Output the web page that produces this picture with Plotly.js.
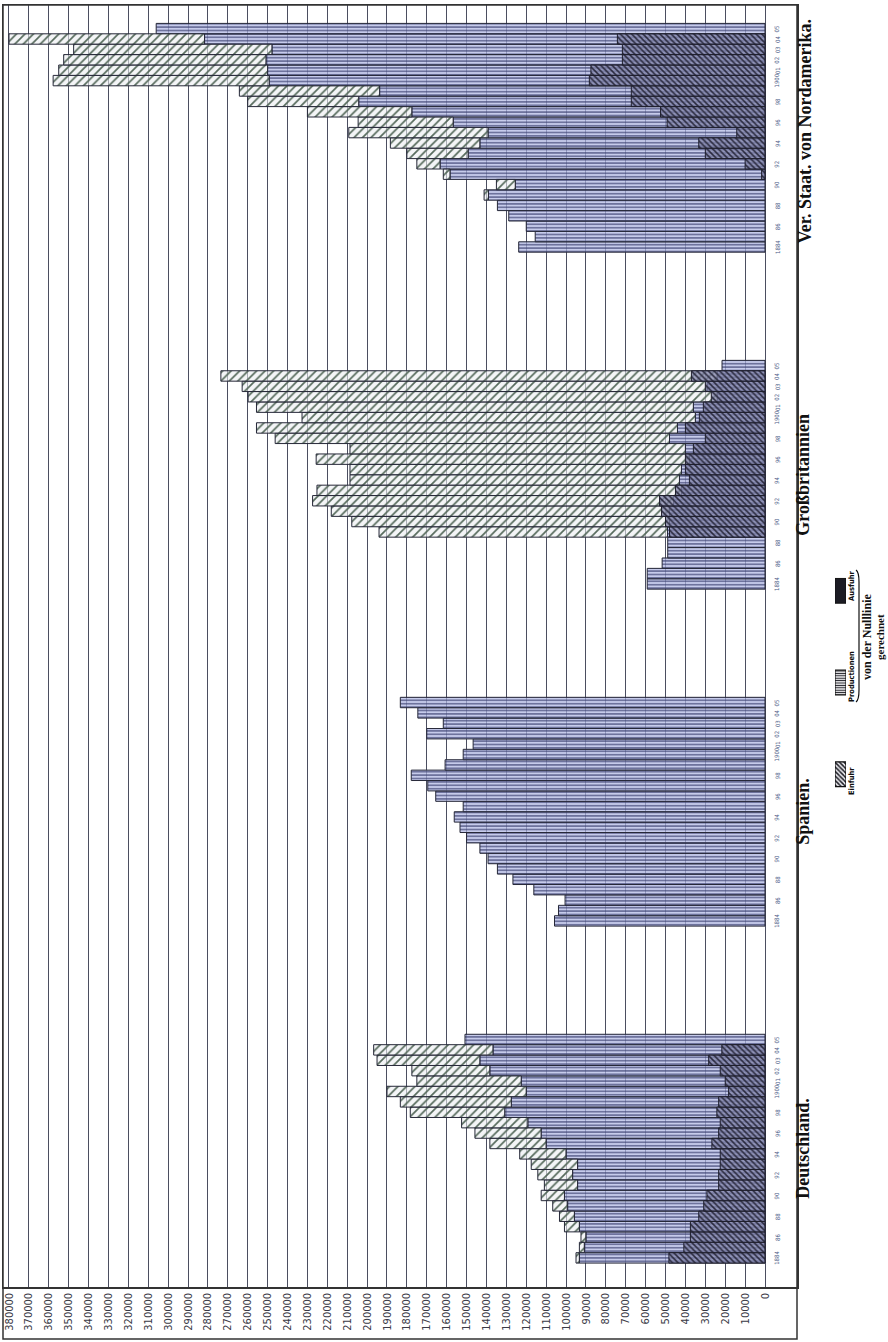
<!DOCTYPE html>
<html><head><meta charset="utf-8">
<script src="https://cdn.plot.ly/plotly-3.0.1.min.js"></script>
<style>html,body{margin:0;padding:0;background:#fff;}#chart{width:888px;height:1342px;}</style>
</head><body><div id="chart"></div>
<script>
// ---------- data ----------
const years = [1884,1885,1886,1887,1888,1889,1890,1891,1892,1893,1894,1895,1896,1897,1898,1899,1900,1901,1902,1903,1904,1905];
const yearLabels = ["1884","","86","","88","","90","","92","","94","","96","","98","","1900","01","02","03","04","05"];
const countryNames = ["Deutschland.","Spanien.","Großbritannien","Ver. Staat. von Nordamerika."];

const productionDE = [93300,90800,90000,93300,95800,99200,100800,94200,96700,94200,100000,110000,112500,119200,130800,127500,120000,122500,138300,143300,136700,150800];
const importsDE    = [1700,2500,2500,7500,7500,7500,11700,16700,17500,23300,23300,28300,33300,33300,47500,55800,70000,52500,39200,51700,60000,0];
const exportsDE    = [48300,40800,37500,37500,33300,30800,29200,23300,23300,22500,22500,26700,23300,22500,24200,23300,18300,20000,22500,28300,21700,0];

const productionES = [105800,103800,100500,116200,126700,134500,139200,143300,150000,153300,156200,151700,165500,169500,177800,160800,151700,146700,170000,161700,174500,183300];
const importsES    = [0,0,0,0,0,0,0,0,0,0,0,0,0,0,0,0,0,0,0,0,0,0];
const exportsES    = [0,0,0,0,0,0,0,0,0,0,0,0,0,0,0,0,0,0,0,0,0,0];

const productionGB = [59200,59200,51700,48900,48900,49000,48000,48000,46000,42000,43000,42000,38000,40000,48000,44000,35000,36000,24000,29000,24000,21600];
const importsGB    = [0,0,0,0,0,145000,159700,170000,181400,183200,165600,166600,187600,168600,198200,211600,197700,219600,235800,233800,249500,0];
const exportsGB    = [0,0,0,0,0,48000,50000,52000,53000,45000,38000,40000,40000,36000,30000,40000,33000,31000,27000,30000,37000,0];

const productionUS = [123800,115500,120000,128800,134500,139000,125500,158300,163300,149200,143300,139200,156700,177500,204200,193700,249200,250000,250800,247800,281700,306000];
const importsUS    = [0,0,0,0,0,2200,9500,3400,11700,30800,45000,70000,47800,52500,55800,70500,108600,105000,101700,99700,98300,0];
const exportsUS    = [0,0,0,0,0,0,0,1700,10000,30000,33300,14200,49200,52500,67200,67200,88300,87500,71700,71700,74200,0];

const valueTickLabels = ["0","10000","20000","30000","40000","50000","60000","70000","80000","90000","100000","110000","120000","130000","140000","150000","160000","170000","180000","190000","200000","210000","220000","230000","240000","250000","260000","270000","280000","290000","300000","310000","320000","330000","340000","350000","360000","370000","380000"];

const legendLabels = ["Einfuhr","Productionen","Ausfuhr"];

// ---------- layout helpers (positions, not data) ----------
const groupBase = [2.8, 35.2, 67.6, 100.0];
const W = 888, H = 1342, ML = 3, MR = 0, MT = 5, MB = 55;
const PW = W - ML - MR, PH = H - MT - MB;
const plotRightPx = 797;
const px2paperX = px => (px - ML) / PW;
const py2paperY = py => (H - MB - py) / PH;

const series = [
  {p: productionDE, i: importsDE, e: exportsDE},
  {p: productionES, i: importsES, e: exportsES},
  {p: productionGB, i: importsGB, e: exportsGB},
  {p: productionUS, i: importsUS, e: exportsUS}
];

const styleProd = {color:'rgba(176,184,228,0.78)', line:{color:'#262838', width:1},
  pattern:{shape:'-', fgcolor:'#3b4070', bgcolor:'rgba(176,184,228,0.72)', size:3.4, solidity:0.32}};
const styleImp = {color:'rgba(236,238,240,0.7)', line:{color:'#262838', width:1},
  pattern:{shape:'/', fgcolor:'#566a5c', bgcolor:'rgba(236,238,242,0.6)', size:6, solidity:0.28}};
const styleExp = {color:'rgba(120,122,160,0.8)', line:{color:'#1e1e2c', width:1},
  pattern:{shape:'\\', fgcolor:'#2a2a3e', bgcolor:'rgba(128,130,168,0.75)', size:4, solidity:0.38}};

const nz = a => a.map(v => v === 0 ? null : v);
const traces = [];
const layers = [
  {key:'p', style: styleProd, base: () => null},
  {key:'i', style: styleImp, base: s => s.p},
  {key:'e', style: styleExp, base: () => null}
];
layers.forEach(L => {
  series.forEach((s, c) => {
    const ys = years.map((_, k) => groupBase[c] + k);
    const t = {type:'bar', orientation:'h', x: nz(s[L.key]), y: ys, width: 1,
      marker: L.style, hoverinfo:'skip', showlegend:false, xaxis:'x', yaxis:'y'};
    const b = L.base(s);
    if (b) t.base = b;
    traces.push(t);
  });
});

// legend swatches (small subplot)
const legendMarkers = [
  {color:'#e8e8ec', line:{color:'#111', width:1.2}, pattern:{shape:'\\', fgcolor:'#1a1a22', bgcolor:'#e8e8ec', size:3.2, solidity:0.45}},
  {color:'#ffffff', line:{color:'#111', width:1.2}, pattern:{shape:'-', fgcolor:'#1a1a22', bgcolor:'#ffffff', size:2.4, solidity:0.45}},
  {color:'#1c1c24', line:{color:'#111', width:1}}
];
legendLabels.forEach((lab, k) => {
  traces.push({type:'bar', orientation:'h', x:[1], y:[k], width:0.27, marker: legendMarkers[k],
    hoverinfo:'skip', showlegend:false, xaxis:'x2', yaxis:'y2'});
});

// ---------- annotations ----------
const annotations = [];
series.forEach((s, c) => {
  yearLabels.forEach((lab, k) => {
    if (!lab) return;
    annotations.push({xref:'x', yref:'y', x:-6000, y: groupBase[c] + k, text: lab,
      textangle:-90, showarrow:false, font:{family:'DejaVu Sans Condensed, DejaVu Sans', size:6, color:'#4a5a86'}});
  });
});
const countryX = [815, 815, 815, 817];
const countryYShift = [0, 0, 0, 0.6];
countryNames.forEach((n, c) => {
  annotations.push({xref:'paper', yref:'y', x: px2paperX(countryX[c]), y: groupBase[c] + 10.5 + countryYShift[c],
    text:'<b>' + n + '</b>', textangle:-90, showarrow:false,
    font:{family:'Liberation Serif, DejaVu Serif, serif', size:18, color:'#111'}});
});
const legendTextY = [781, 677, 586];
legendLabels.forEach((lab, k) => {
  annotations.push({xref:'paper', yref:'paper', x: px2paperX(851), y: py2paperY(legendTextY[k]),
    xanchor:'center', yanchor:'middle',
    text:'<b>' + lab + '</b>', textangle:-90, showarrow:false,
    font:{family:'DejaVu Sans Condensed, DejaVu Sans', size:7.5, color:'#111'}});
});
annotations.push({xref:'paper', yref:'paper', x: px2paperX(867), y: py2paperY(637),
  xanchor:'center', yanchor:'middle',
  text:'<b>von der Nulllinie</b>', textangle:-90, showarrow:false,
  font:{family:'Liberation Serif, DejaVu Serif, serif', size:12, color:'#111'}});
annotations.push({xref:'paper', yref:'paper', x: px2paperX(880), y: py2paperY(637),
  xanchor:'center', yanchor:'middle',
  text:'<b>gerechnet</b>', textangle:-90, showarrow:false,
  font:{family:'Liberation Serif, DejaVu Serif, serif', size:11, color:'#111'}});

// ---------- shapes (frame + brace) ----------
const bx = px2paperX(859), bx2 = px2paperX(856);
const shapes = [
  {type:'rect', xref:'paper', yref:'paper', x0:0, x1:px2paperX(plotRightPx), y0:-(1339-(H-MB))/PH, y1:1,
   line:{color:'#333', width:1.5}, fillcolor:'rgba(0,0,0,0)'},
  {type:'path', xref:'paper', yref:'paper',
   path:`M ${bx2} ${py2paperY(702)} Q ${bx} ${py2paperY(700)} ${bx} ${py2paperY(690)} L ${bx} ${py2paperY(582)} Q ${bx} ${py2paperY(572)} ${bx2} ${py2paperY(570)}`,
   line:{color:'#111', width:1.2}}
];

const layout = {
  width: W, height: H,
  margin: {l: ML, r: MR, t: MT, b: MB},
  paper_bgcolor:'#ffffff', plot_bgcolor:'#ffffff',
  barmode:'overlay', bargap:0,
  showlegend:false,
  xaxis: {domain:[0, px2paperX(plotRightPx)], range:[383000, -16080], tickmode:'array',
    tickvals: valueTickLabels.map(Number), ticktext: valueTickLabels,
    tickangle:-90, ticks:'', showgrid:true, gridcolor:'#4b4e60', gridwidth:1, zeroline:false,
    showline:true, linecolor:'#333', linewidth:1.5, mirror:true, ticklabeloverflow:'allow',
    tickfont:{family:'DejaVu Sans Condensed, Liberation Sans Narrow, DejaVu Sans', size:11, color:'#3a3a46'},
    fixedrange:true},
  yaxis: {range:[0, PH/10.4], showgrid:false, zeroline:false, showticklabels:false, ticks:'',
    showline:true, linecolor:'#333', linewidth:1.5, mirror:true, fixedrange:true},
  xaxis2: {domain:[px2paperX(835), px2paperX(846)], anchor:'y2', range:[0,1], visible:false, fixedrange:true},
  yaxis2: {domain:[py2paperY(820), py2paperY(545)], anchor:'x2', range:[-0.5, 2.5], visible:false, fixedrange:true},
  annotations, shapes
};

Plotly.newPlot('chart', traces, layout, {staticPlot:true, displayModeBar:false});
</script>
</body></html>
